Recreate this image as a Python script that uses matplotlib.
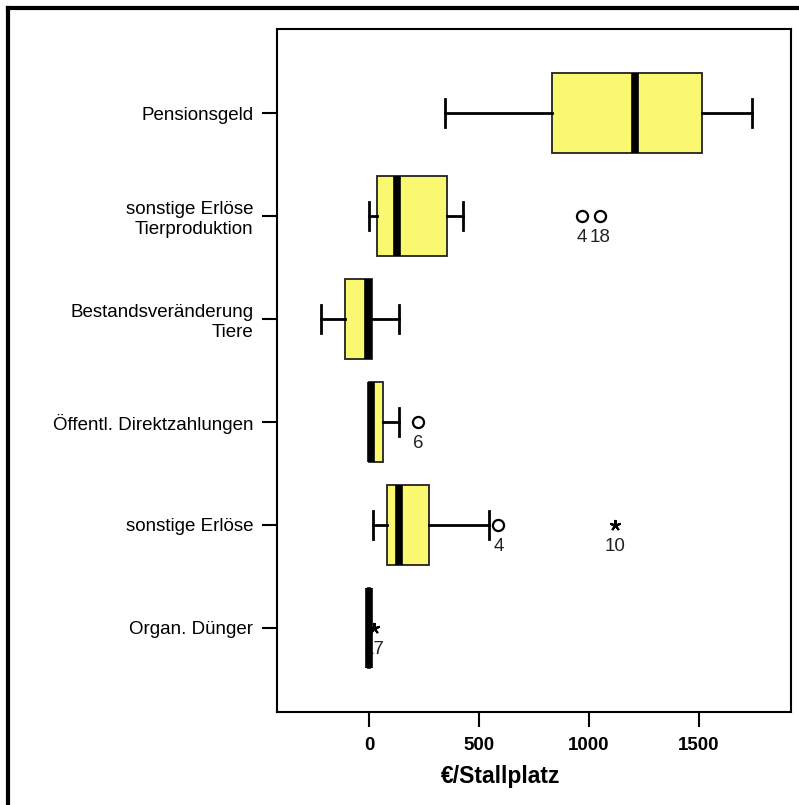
import matplotlib.pyplot as plt
from matplotlib.lines import Line2D

plt.rcParams['font.family'] = ['Liberation Sans', 'DejaVu Sans']

# categories from bottom to top
categories = [
    "Organ. Dünger",
    "sonstige Erlöse",
    "Öffentl. Direktzahlungen",
    "Bestandsveränderung\nTiere",
    "sonstige Erlöse\nTierproduktion",
    "Pensionsgeld",
]
whislo = [-3, 20, 0, -218, 1, 345]
q1 = [-3, 80, 0, -109, 35, 831]
med = [0, 136, 10, -5, 127, 1209]
q3 = [3, 274, 65, 12, 356, 1515]
whishi = [3, 547, 136, 136, 429, 1740]

# outliers: (category index, value, case label, marker)
out_idx = [4, 4, 2, 1, 1, 0]
out_val = [967, 1050, 224, 588, 1118, 22]
out_lab = ["4", "18", "6", "4", "10", "17"]
out_kind = ["o", "o", "o", "o", "*", "*"]


def main():
    fig = plt.figure(figsize=(7.99, 8.05), dpi=100)
    ax = fig.add_axes([277 / 799, 93 / 805, 514 / 799, 683 / 805])

    positions = list(range(1, len(categories) + 1))
    stats = []
    for i, name in enumerate(categories):
        stats.append({
            "label": name, "whislo": whislo[i], "q1": q1[i], "med": med[i],
            "q3": q3[i], "whishi": whishi[i], "fliers": [],
        })

    # outliers first, so the boxes can cover them
    for i, v, lab, kind in zip(out_idx, out_val, out_lab, out_kind):
        y = positions[i]
        if kind == "o":
            ax.plot(v, y, marker="o", ms=8, mfc="white", mec="black", mew=1.6, zorder=1)
        else:
            ax.plot(v, y, marker=(5, 2, 0), ms=8, color="black", mew=1.5, zorder=1)
        ax.text(v, y - 0.13, lab, ha="center", va="top", fontsize=13.5, color="#222222", zorder=1)

    ax.bxp(
        stats, positions=positions, vert=False, widths=0.77, capwidths=0.27,
        showfliers=False, patch_artist=True,
        boxprops=dict(facecolor="#FAF870", edgecolor="#222222", linewidth=1.3),
        medianprops=dict(color="black", linewidth=5.5, solid_capstyle="butt"),
        whiskerprops=dict(color="black", linewidth=2),
        capprops=dict(color="black", linewidth=2),
    )
    for art in ax.patches + ax.lines:
        if art.get_zorder() < 2:
            art.set_zorder(2)

    ax.set_xlim(-418, 1918)
    ax.set_ylim(0.184, 6.816)
    ax.set_xticks([0, 500, 1000, 1500])
    ax.set_xticklabels(["0", "500", "1000", "1500"], fontsize=13.5, fontweight="bold")
    ax.set_yticks(positions)
    ax.set_yticklabels(categories, fontsize=13.5, multialignment="right")
    ax.tick_params(axis="both", length=11, width=1.5, direction="out")
    ax.tick_params(axis="x", pad=7)
    ax.tick_params(axis="y", pad=6)
    for sp in ax.spines.values():
        sp.set_linewidth(1.5)
    ax.set_xlabel("€/Stallplatz", fontsize=16.5, fontweight="bold")
    ax.xaxis.set_label_coords(0.436, -0.078)

    # outer frame (left and top edges visible)
    fig.add_artist(Line2D([8 / 799, 8 / 799], [0, 1 - 8 / 805], color="black", lw=3))
    fig.add_artist(Line2D([8 / 799, 1], [1 - 8 / 805, 1 - 8 / 805], color="black", lw=3))

    fig.savefig("out.png", dpi=100)
    plt.close(fig)


if __name__ == "__main__":
    main()
